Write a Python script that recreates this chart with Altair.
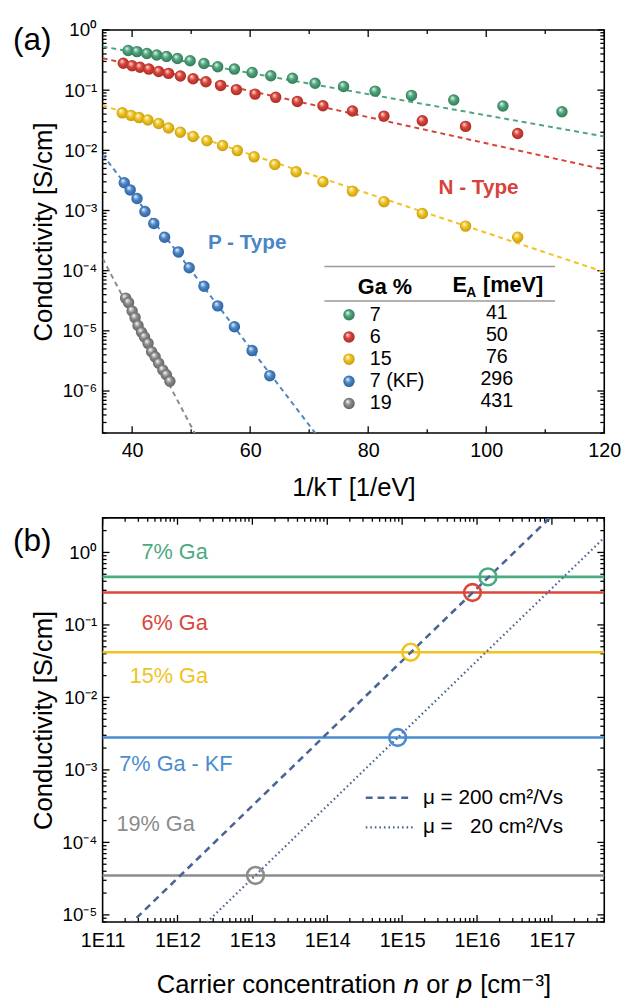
import altair as alt
import pandas as pd

FONT = "Liberation Sans"

# ---------------- Panel (a): Arrhenius plot data ----------------
ga_labels = ["7", "6", "15", "7 (KF)", "19"]
ea_labels = ["41", "50", "76", "296", "431"]
colors = ["#4fa47c", "#d7433a", "#efc323", "#4a85c6", "#8b8b8b"]
dark_colors = ["#2d7352", "#a02a22", "#c0950a", "#2a5c96", "#5c5c5c"]
light_colors = ["#bfe3d1", "#f6b8b1", "#fcefb5", "#c2d9f3", "#e2e2e2"]

x_green = [39.33, 40.83, 42.5, 44.17, 45.83, 47.67, 49.83, 52.17, 54.5, 57.33,
           60.33, 63.5, 67.17, 71.0, 75.83, 81.17, 87.33, 94.5, 102.83, 112.83]
y_green = [0.457, 0.437, 0.407, 0.385, 0.363, 0.335, 0.309, 0.277, 0.245, 0.224,
           0.197, 0.174, 0.158, 0.130, 0.115, 0.0964, 0.0818, 0.0686, 0.0547, 0.0437]

x_red = [38.5, 40.0, 41.33, 42.83, 44.5, 46.17, 48.17, 50.33, 52.5, 55.0,
         57.67, 60.83, 64.33, 68.0, 72.33, 77.33, 82.67, 89.17, 96.5, 105.33]
y_red = [0.28, 0.255, 0.24, 0.224, 0.204, 0.19, 0.172, 0.155, 0.138, 0.12,
         0.102, 0.086, 0.076, 0.065, 0.055, 0.045, 0.037, 0.031, 0.025, 0.019]

x_yellow = [38.33, 39.83, 41.17, 42.67, 44.5, 46.17, 48.17, 50.33, 52.67, 55.33,
            57.83, 60.67, 64.17, 67.8, 72.33, 77.33, 82.67, 89.17, 96.5, 105.33]
y_yellow = [0.042, 0.038, 0.035, 0.032, 0.028, 0.0235, 0.020, 0.017, 0.0144, 0.012,
            0.0099, 0.0078, 0.0058, 0.0044, 0.0030, 0.0021, 0.0014, 0.00089, 0.00055, 0.00036]

x_blue = [38.67, 39.67, 40.83, 42.17, 43.67, 45.5, 47.83, 49.67, 52.17, 54.5,
          57.33, 60.33, 63.33]
y_blue = [0.0029, 0.0022, 0.00158, 0.00096, 0.00061, 0.00036, 0.000205, 0.000112,
          5.5e-5, 2.6e-5, 1.17e-5, 4.7e-6, 1.8e-6]

x_gray = [38.9, 39.4, 40.0, 40.5, 41.0, 41.6, 42.1, 42.7, 43.3, 43.9, 44.5, 45.2, 45.8, 46.4]
y_gray = [3.5e-5, 2.95e-5, 2.14e-5, 1.66e-5, 1.23e-5, 9.5e-6, 7.9e-6, 6.2e-6,
          4.5e-6, 3.7e-6, 2.9e-6, 2.24e-6, 1.86e-6, 1.45e-6]

series_x = [x_green, x_red, x_yellow, x_blue, x_gray]
series_y = [y_green, y_red, y_yellow, y_blue, y_gray]

# Arrhenius fit lines (end points)
fit_x = [[35, 120], [35, 120], [35, 120], [35, 72], [35, 52]]
fit_y = [[0.53, 0.017], [0.34, 0.0048], [0.056, 9.5e-5], [0.0085, 1.5e-7], [1.6e-4, 1.1e-7]]

type_labels = ["N - Type", "P - Type"]
type_x = [98.7, 59.5]
type_y = [2.4e-3, 2.9e-4]
type_colors = [colors[1], colors[3]]

# ---------------- Panel (b) data ----------------
b_labels = ["7% Ga", "6% Ga", "15% Ga", "7% Ga - KF", "19% Ga"]
b_line_colors = ["#4caa80", "#d9463a", "#f0c31e", "#4b8bd0", "#8c8c8c"]
b_sigma = [0.46, 0.28, 0.042, 0.0028, 3.5e-5]
b_carrier = [1.4e16, 8.7e15, 1.3e15, 8.7e14, 1.1e13]
b_label_x = [3.3e11, 3.3e11, 2.3e11, 1.67e11, 1.53e11]
b_label_y = [1.0, 0.107, 0.0194, 0.0012, 1.8e-4]

mob_labels = ["\u03bc = 200 cm\u00b2/Vs", "\u03bc = \u200720 cm\u00b2/Vs"]
mob_n = [[1e11, 1e17], [1e11, 5e17]]
mob_sigma = [[3.2e-6, 3.2], [3.2e-7, 1.6]]
mob_color = "#4a6594"

# ---------------- axis tick labels ----------------
ya_vals = [1e-6, 1e-5, 1e-4, 1e-3, 1e-2, 1e-1, 1]
ya_text = ["10\u207b\u2076", "10\u207b\u2075", "10\u207b\u2074", "10\u207b\u00b3",
           "10\u207b\u00b2", "10\u207b\u00b9", "10\u2070"]
xa_vals = [40, 60, 80, 100, 120]
xa_minor = [50, 70, 90, 110]
yb_vals = [1e-5, 1e-4, 1e-3, 1e-2, 1e-1, 1]
yb_text = ["10\u207b\u2075", "10\u207b\u2074", "10\u207b\u00b3", "10\u207b\u00b2",
           "10\u207b\u00b9", "10\u2070"]
xb_vals = [1e11, 1e12, 1e13, 1e14, 1e15, 1e16, 1e17]
xb_text = ["1E11", "1E12", "1E13", "1E14", "1E15", "1E16", "1E17"]


def minor_log(lo, hi):
    out = []
    for e in range(-8, 20):
        for k in range(2, 10):
            v = k * 10.0 ** e
            if lo <= v <= hi:
                out.append(v)
    return out


def label_expr(texts, offset):
    arr = "[" + ",".join("'%s'" % t for t in texts) + "]"
    return "%s[round(log(datum.value)/LN10) + %d]" % (arr, offset)


W = 509
HA = 409
HB = 410

xs_a = alt.Scale(domain=[35, 120], nice=False, zero=False)
ys_a = alt.Scale(type="log", domain=[2e-7, 1], nice=False)
xs_b = alt.Scale(type="log", domain=[1e11, 5e17], nice=False)
ys_b = alt.Scale(type="log", domain=[8e-6, 3], nice=False)

common_axis = dict(ticks=False, domain=False, grid=False, labelFlush=False,
                   labelOverlap=False, titleFontSize=26, titleFontWeight="normal")

xaxis_a = alt.Axis(values=xa_vals, format="d", title="1/kT [1/eV]", labelFontSize=20,
                   labelPadding=8, titlePadding=14, **common_axis)
yaxis_a = alt.Axis(values=ya_vals, labelExpr=label_expr(ya_text, 6), title="Conductivity [S/cm]",
                   labelFontSize=19, labelPadding=6, titlePadding=6, **common_axis)
xaxis_b = alt.Axis(values=xb_vals, labelExpr=label_expr(xb_text, -11),
                   title="Carrier concentration \U0001d62f or \U0001d631 [cm\u207b\u00b3]",
                   labelFontSize=20, labelPadding=9, titlePadding=22, **common_axis)
yaxis_b = alt.Axis(values=yb_vals, labelExpr=label_expr(yb_text, 5), title="Conductivity [S/cm]",
                   labelFontSize=19, labelPadding=6, titlePadding=6, **common_axis)


def tick_layers(xs, ys, xaxis, yaxis, xmaj, xmin, ymaj, ymin, H):
    layers = []
    for vals, L in ((ymaj, 7), (ymin, 4)):
        base = alt.Chart(pd.DataFrame({"v": vals})).mark_rule(color="black", strokeWidth=1.3)
        yenc = alt.Y("v:Q", scale=ys, axis=yaxis)
        layers.append(base.encode(y=yenc, x=alt.value(0), x2=alt.value(L)))
        layers.append(base.encode(y=yenc, x=alt.value(W - L), x2=alt.value(W)))
    for vals, L in ((xmaj, 7), (xmin, 4)):
        base = alt.Chart(pd.DataFrame({"v": vals})).mark_rule(color="black", strokeWidth=1.3)
        xenc = alt.X("v:Q", scale=xs, axis=xaxis)
        layers.append(base.encode(x=xenc, y=alt.value(0), y2=alt.value(L)))
        layers.append(base.encode(x=xenc, y=alt.value(H - L), y2=alt.value(H)))
    return layers


def ball(i):
    return alt.Gradient(
        gradient="radial",
        stops=[alt.GradientStop(color="#ffffff", offset=0),
               alt.GradientStop(color=light_colors[i], offset=0.12),
               alt.GradientStop(color=colors[i], offset=0.45),
               alt.GradientStop(color=dark_colors[i], offset=1)],
        x1=0.36, y1=0.3, r1=0, x2=0.5, y2=0.5, r2=0.56)


def text_at(t, x, y, size, color="black", weight="normal", align="left"):
    return alt.Chart(pd.DataFrame({"t": [t]})).mark_text(
        text=t, fontSize=size, color=color, fontWeight=weight, align=align,
        baseline="middle", font=FONT).encode(x=alt.value(x), y=alt.value(y))


# ---------------- build panel (a) ----------------
la = tick_layers(xs_a, ys_a, xaxis_a, yaxis_a, xa_vals, xa_minor, ya_vals,
                 minor_log(2e-7, 1), HA)

for i in range(5):
    d = pd.DataFrame({"x": fit_x[i], "y": fit_y[i]})
    la.append(alt.Chart(d).mark_line(color=colors[i], strokeDash=[5, 4], strokeWidth=2, clip=True)
              .encode(x=alt.X("x:Q", scale=xs_a, axis=xaxis_a),
                      y=alt.Y("y:Q", scale=ys_a, axis=yaxis_a)))

for i in reversed(range(5)):
    d = pd.DataFrame({"x": series_x[i], "y": series_y[i]})
    la.append(alt.Chart(d).mark_circle(color=ball(i), opacity=1, size=135)
              .encode(x=alt.X("x:Q", scale=xs_a, axis=xaxis_a),
                      y=alt.Y("y:Q", scale=ys_a, axis=yaxis_a)))

for j in range(2):
    d = pd.DataFrame({"x": [type_x[j]], "y": [type_y[j]], "t": [type_labels[j]]})
    la.append(alt.Chart(d).mark_text(fontSize=21, fontWeight="bold", font=FONT, color=type_colors[j])
              .encode(x=alt.X("x:Q", scale=xs_a, axis=xaxis_a),
                      y=alt.Y("y:Q", scale=ys_a, axis=yaxis_a),
                      text="t:N"))

# legend table for panel (a)
for yy in (240, 275):
    la.append(alt.Chart(pd.DataFrame({"a": [0]})).mark_rule(color="#9a9a9a", strokeWidth=1.5)
              .encode(x=alt.value(225), x2=alt.value(459), y=alt.value(yy)))
la.append(text_at("Ga %", 259, 261, 22, weight="bold"))
la.append(text_at("E", 355, 259, 22, weight="bold"))
la.append(text_at("A", 369, 267, 14, weight="bold"))
la.append(text_at("[meV]", 386, 259, 22, weight="bold"))
row_y = [289, 311.5, 334, 356.5, 379]
for i in range(5):
    la.append(alt.Chart(pd.DataFrame({"a": [0]})).mark_circle(color=ball(i), opacity=1, size=135)
              .encode(x=alt.value(250), y=alt.value(row_y[i])))
    la.append(text_at(ga_labels[i], 271, row_y[i], 20))
    la.append(text_at(ea_labels[i], 400, row_y[i] - 2, 20, align="center"))

la.append(text_at("(a)", -91, 10, 32))

panel_a = alt.layer(*la).properties(width=W, height=HA)

# ---------------- build panel (b) ----------------
lb = tick_layers(xs_b, ys_b, xaxis_b, yaxis_b, xb_vals, minor_log(1e11, 5e17), yb_vals,
                 minor_log(8e-6, 3), HB)

for i in range(5):
    d = pd.DataFrame({"s": [b_sigma[i]]})
    lb.append(alt.Chart(d).mark_rule(strokeWidth=2.6, color=b_line_colors[i])
              .encode(y=alt.Y("s:Q", scale=ys_b, axis=yaxis_b)))

for j, dash, sw in ((0, [7, 5], 2.6), (1, [1.6, 3], 2.2)):
    d = pd.DataFrame({"n": mob_n[j], "s": mob_sigma[j]})
    lb.append(alt.Chart(d).mark_line(color=mob_color, strokeDash=dash, strokeWidth=sw, clip=True)
              .encode(x=alt.X("n:Q", scale=xs_b, axis=xaxis_b),
                      y=alt.Y("s:Q", scale=ys_b, axis=yaxis_b)))

for i in range(5):
    d = pd.DataFrame({"n": [b_carrier[i]], "s": [b_sigma[i]]})
    lb.append(alt.Chart(d).mark_point(shape="circle", filled=False, size=290, strokeWidth=2.6,
                                      opacity=1, color=b_line_colors[i])
              .encode(x=alt.X("n:Q", scale=xs_b, axis=xaxis_b),
                      y=alt.Y("s:Q", scale=ys_b, axis=yaxis_b)))
    d2 = pd.DataFrame({"n": [b_label_x[i]], "s": [b_label_y[i]], "k": [b_labels[i]]})
    lb.append(alt.Chart(d2).mark_text(fontSize=22, align="left", font=FONT, color=b_line_colors[i])
              .encode(x=alt.X("n:Q", scale=xs_b, axis=xaxis_b),
                      y=alt.Y("s:Q", scale=ys_b, axis=yaxis_b),
                      text="k:N"))

# mobility legend
for j, (dash, sw, yy) in enumerate((([7, 5], 2.6, 284), ([1.6, 3], 2.2, 314))):
    lb.append(alt.Chart(pd.DataFrame({"a": [0]})).mark_rule(color=mob_color, strokeDash=dash, strokeWidth=sw)
              .encode(x=alt.value(267), x2=alt.value(315), y=alt.value(yy)))
    lb.append(text_at(mob_labels[j], 325, yy, 21))

lb.append(text_at("(b)", -91, 24, 32))

panel_b = alt.layer(*lb).properties(width=W, height=HB)

chart = (
    alt.vconcat(panel_a, panel_b, spacing=15)
    .properties(padding={"left": 4, "top": 5, "right": 0, "bottom": 0})
    .configure_view(stroke="black", strokeWidth=1.6)
    .configure_axis(labelFont=FONT, titleFont=FONT, labelColor="black", titleColor="black")
    .configure_text(font=FONT)
)

chart.save("out.html", embed_options={"renderer": "svg", "actions": False})
